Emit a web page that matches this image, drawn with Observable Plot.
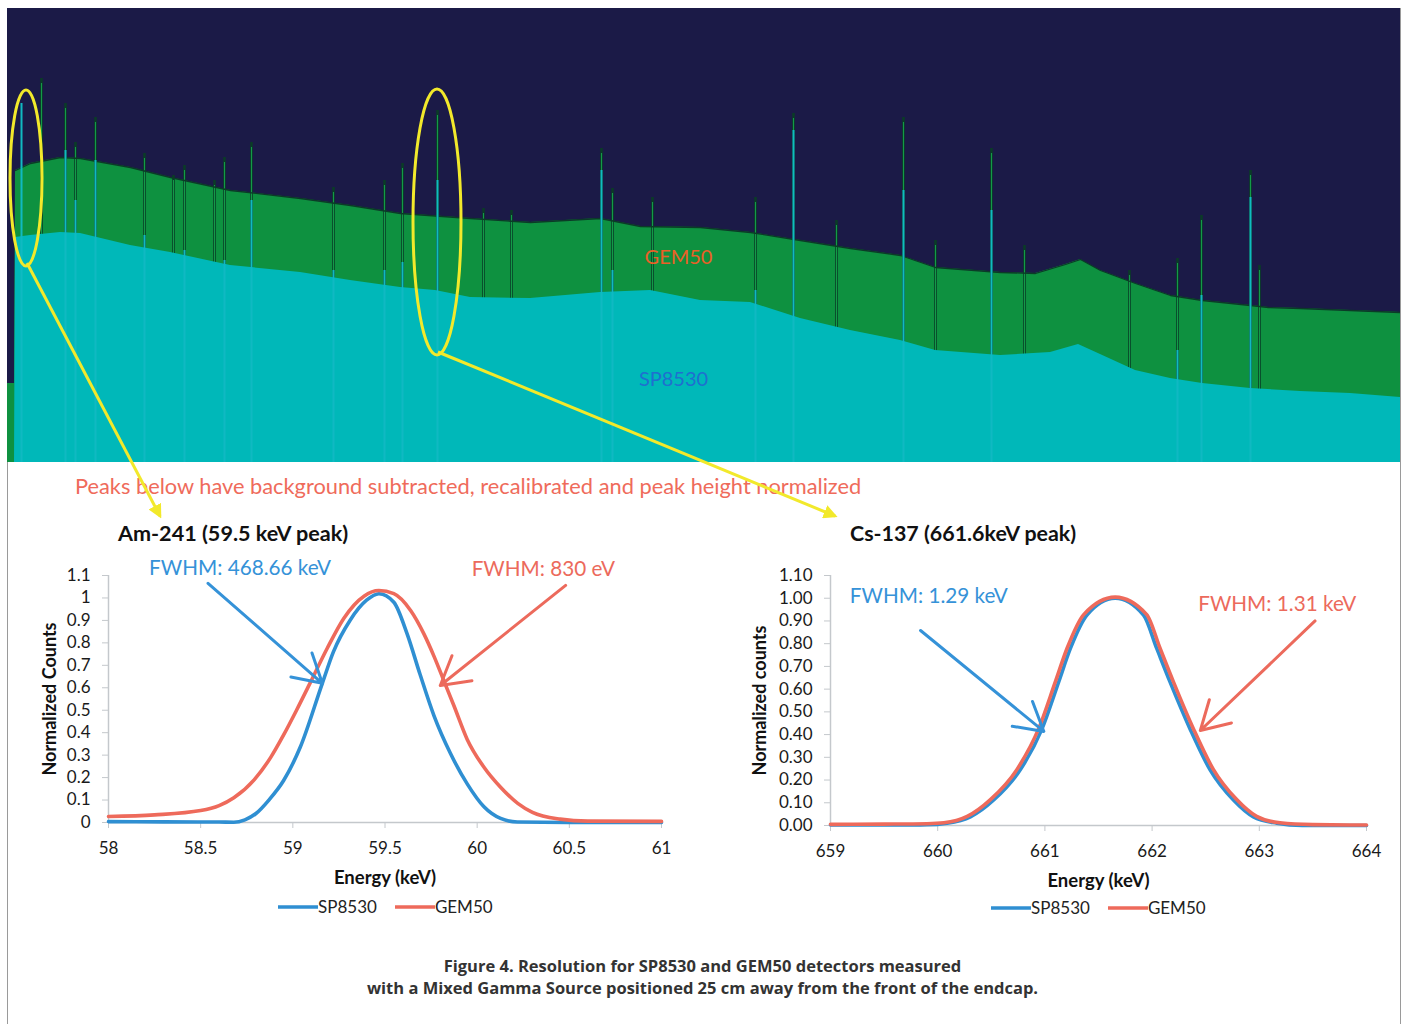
<!DOCTYPE html>
<html><head><meta charset="utf-8">
<script src="https://cdn.jsdelivr.net/npm/d3@7"></script>
<script src="https://cdn.jsdelivr.net/npm/@observablehq/plot@0.6"></script>
<style>
body{margin:0;background:#fff;}
#page{position:relative;width:1405px;height:1024px;overflow:hidden;background:#fff;font-family:Lato,"Open Sans",sans-serif;}
.abs{position:absolute;white-space:nowrap;}
</style></head><body><div id="page"></div>
<script>
// ---------- Top spectrum (channel, counts) ----------
const gemChannel = [0,7,8,23,53,73,123,163,223,293,343,393,463,523,593,633,693,743,793,843,893,928,993,1028,1058,1073,1093,1128,1163,1195,1243,1261,1293,1343,1393];
const gemCounts  = [79,79,292,299,305,304,295,285,272,264,257,249,244,240,244,236,235,230,222,214,207,195,190,189,198,203,192,179,167,162,157,155,154,152,150];
const spChannel  = [0,7,8,23,53,73,123,163,223,293,343,393,428,463,523,593,643,693,743,793,843,893,928,993,1043,1071,1093,1128,1163,1195,1243,1293,1343,1393];
const spCounts   = [0,0,225,227,230,229,217,210,197,190,182,175,172,165,164,170,172,162,160,144,132,122,112,107,110,118,108,92,84,79,74,71,69,65];
const peakChannel = [14,34,58,68,88,137,166,177,207,217,244,326,377,395,430,476,504,594,605,645,748,786,829,896,928,984,1017,1122,1170,1194,1243,1252];
const peakGEM = [null,384,359,320,345,309,287,297,282,305,320,275,282,299,352,254,252,314,274,265,265,349,242,345,222,314,217,192,204,247,292,197];
const peakSP  = [359,null,312,262,302,227,null,212,null,202,262,192,192,200,282,null,null,292,192,null,172,332,null,272,null,252,null,null,112,167,265,null];
const spectrumLabels = [{ch:671, v:205, t:"GEM50", c:"#ea6027", w:"bold"}, {ch:666, v:83, t:"SP8530", c:"#1f6fd0", w:"normal"}];
const highlightRegions = [{ch:19, v:284, dch:16, dv:88}, {ch:430, v:240, dch:24, dv:133}];

// ---------- Am-241 peak ----------
const amSPEnergy = [58.0,58.3,58.6,58.68,58.74,58.80,58.87,58.95,59.04,59.16,59.22,59.31,59.40,59.467,59.548,59.62,59.69,59.766,59.856,59.946,60.037,60.127,60.218,60.5,61.0];
const amSP       = [0.004,0.003,0.002,0.001,0.012,0.04,0.1,0.187,0.335,0.62,0.76,0.9,0.99,1.019,0.981,0.84,0.66,0.475,0.306,0.172,0.07,0.018,0.002,0,0];
const amGEMEnergy = [58.0,58.25,58.5,58.6,58.68,58.79,58.88,58.95,59.02,59.096,59.186,59.277,59.386,59.467,59.548,59.639,59.711,59.766,59.82,59.874,59.946,60.037,60.127,60.22,60.3,60.45,60.6,61.0];
const amGEM       = [0.027,0.034,0.053,0.075,0.11,0.19,0.29,0.39,0.5,0.625,0.775,0.91,1.008,1.033,1.019,0.944,0.84,0.74,0.63,0.52,0.37,0.246,0.157,0.085,0.045,0.015,0.006,0.005];
const amXTicks = [58,58.5,59,59.5,60,60.5,61];
const amYTicks = [0,0.1,0.2,0.3,0.4,0.5,0.6,0.7,0.8,0.9,1,1.1];

// ---------- Cs-137 peak ----------
const csSPEnergy = [659,659.5,659.9,660.088,660.305,660.522,660.77,660.972,661.128,661.237,661.392,661.656,661.92,662.044,662.168,662.355,662.541,662.759,662.945,663.163,663.4,664];
const csSP       = [0.002,0.002,0.003,0.01,0.038,0.112,0.245,0.424,0.631,0.778,0.926,1.0,0.926,0.778,0.631,0.424,0.245,0.112,0.038,0.01,0,0];
const csGEMEnergy = [659,659.5,659.9,660.058,660.275,660.492,660.74,660.942,661.098,661.207,661.362,661.656,661.95,662.074,662.198,662.385,662.571,662.789,662.975,663.193,663.5,664];
const csGEM       = [0.005,0.006,0.008,0.012,0.04,0.114,0.247,0.426,0.633,0.78,0.928,1.005,0.928,0.78,0.633,0.426,0.247,0.114,0.04,0.012,0.004,0.002];
const csXTicks = [659,660,661,662,663,664];
const csYTicks = [0,0.1,0.2,0.3,0.4,0.5,0.6,0.7,0.8,0.9,1.0,1.1];

// FWHM annotations (data coordinates)
const amNotes = [{x:58.22, y:1.13, t:"FWHM: 468.66 keV", c:"#3592d8", x1:58.54, y1:1.065, x2:59.16, y2:0.62},
                 {x:59.97, y:1.127, t:"FWHM: 830 eV", c:"#ec6a5c", x1:60.48, y1:1.056, x2:59.80, y2:0.61}];
const csNotes = [{x:659.18, y:1.007, t:"FWHM: 1.29 keV", c:"#3592d8", x1:659.84, y1:0.858, x2:660.99, y2:0.414},
                 {x:662.43, y:0.972, t:"FWHM: 1.31 keV", c:"#ec6a5c", x1:663.52, y1:0.90, x2:662.45, y2:0.418}];

const seriesNames = ["SP8530","GEM50"];
const BLUE = "#2f8fd2", RED = "#ee6a5b", AXIS = "#c4c8cc";
const NAVY = "#1b1a47", GREEN = "#0e9140", CYAN = "#00b8b9";

const page = document.getElementById("page");
function place(el, left, top){ el.style.position="absolute"; el.style.left=left+"px"; el.style.top=top+"px"; page.appendChild(el); return el; }
function textDiv(txt, left, top, css){ const d=document.createElement("div"); d.className="abs"; d.textContent=txt; Object.assign(d.style, css); return place(d,left,top); }

// border frame
const frame = document.createElement("div");
Object.assign(frame.style,{width:"1392px",height:"1030px",borderLeft:"1px solid #9a9a9a",borderRight:"1px solid #9a9a9a"});
place(frame, 7, 8);

// ---------- top panel ----------
const gemRows = gemChannel.map((ch,i)=>({ch, v:gemCounts[i]}));
const spRows = spChannel.map((ch,i)=>({ch, v:spCounts[i]}));
const gemPeaks = peakChannel.map((ch,i)=>({ch, v:peakGEM[i]})).filter(d=>d.v!=null);
const spPeaks = peakChannel.map((ch,i)=>({ch, v:peakSP[i]})).filter(d=>d.v!=null);

const topPlot = Plot.plot({
  width: 1393, height: 454, margin: 0,
  x: {domain: [0, 1393], axis: null},
  y: {domain: [0, 454], axis: null},
  style: {background: NAVY, fontFamily: "Lato, sans-serif"},
  marks: [
    Plot.areaY(gemRows, {x: "ch", y: "v", fill: GREEN}),
    Plot.ruleX(gemPeaks, {x: "ch", y1: 0, y2: "v", stroke: "#0b3b27", strokeWidth: 2.6}),
    Plot.ruleX(gemPeaks, {x: "ch", y1: 0, y2: d => d.v - 5, stroke: "#139a48", strokeWidth: 1.1}),
    Plot.lineY(gemRows.slice(2), {x: "ch", y: "v", stroke: "#0b3b27", strokeWidth: 1.3}),
    Plot.areaY(spRows, {x: "ch", y: "v", fill: CYAN}),
    Plot.ruleX(spPeaks, {x: "ch", y1: 0, y2: "v", stroke: "#10b9c2", strokeWidth: 2}),
    Plot.text(spectrumLabels, {x: "ch", y: "v", text: "t", fill: "c", fontWeight: "w", fontSize: 20})
  ]
});
place(topPlot, 7, 8);

// ---------- header text & titles ----------
textDiv("Peaks below have background subtracted, recalibrated and peak height normalized", 75, 472, {fontSize:"21.8px", color:"#ef6b5b"});
textDiv("Am-241 (59.5 keV peak)", 118, 520, {fontSize:"21.6px", fontWeight:"bold", color:"#111"});
textDiv("Cs-137 (661.6keV peak)", 850, 520, {fontSize:"21.4px", fontWeight:"bold", color:"#111"});

// ---------- peak charts ----------
function peakChart({spE, sp, gemE, gem, xTicks, yTicks, yFmt, xDomain, notes, yLabel, width, height, ml, mr, mt, mb, yLabelDx}) {
  const spRowsC = spE.map((e,i)=>({e, v: sp[i]}));
  const gemRowsC = gemE.map((e,i)=>({e, v: gem[i]}));
  return Plot.plot({
    width, height, marginLeft: ml, marginRight: mr, marginTop: mt, marginBottom: mb,
    style: {fontFamily: "Lato, sans-serif", fontSize: "17px", overflow: "visible", background: "transparent"},
    x: {domain: xDomain, label: null},
    y: {domain: [0, 1.1], label: null},
    marks: [
      Plot.ruleY([0], {stroke: AXIS, strokeWidth: 1.5}),
      Plot.ruleX([xDomain[0]], {stroke: AXIS, strokeWidth: 1.5}),
      Plot.axisX(xTicks, {tickSize: 6, tickPadding: 13, stroke: AXIS, fill: "#1a1a1a", label: null, tickFormat: d3.format("~g")}),
      Plot.axisY(yTicks, {tickSize: 6, tickPadding: 12, stroke: AXIS, fill: "#1a1a1a", label: null, tickFormat: yFmt}),
      Plot.line(spRowsC, {x: "e", y: "v", stroke: BLUE, strokeWidth: 3.6, curve: "monotone-x"}),
      Plot.line(gemRowsC, {x: "e", y: "v", stroke: RED, strokeWidth: 3.6, curve: "monotone-x"}),
      Plot.arrow(notes, {x1: "x1", y1: "y1", x2: "x2", y2: "y2", stroke: "c", strokeWidth: 3, headLength: 16}),
      Plot.text(notes, {x: "x", y: "y", text: "t", fill: "c", textAnchor: "start", fontSize: 20.7}),
      Plot.text(["Energy (keV)"], {frameAnchor: "bottom", lineAnchor: "middle", dy: 56, fontWeight: "bold", fontSize: 18.5, fill: "#111"}),
      Plot.text([yLabel], {frameAnchor: "left", textAnchor: "middle", lineAnchor: "middle", dx: yLabelDx, rotate: -90, fontWeight: "bold", fontSize: 18, fill: "#111"})
    ]
  });
}

const amPlot = peakChart({spE: amSPEnergy, sp: amSP, gemE: amGEMEnergy, gem: amGEM, xTicks: amXTicks, yTicks: amYTicks, yFmt: d3.format("~g"),
  xDomain: [58, 61], notes: amNotes, yLabel: "Normalized Counts", width: 680, height: 345, ml: 88, mr: 39, mt: 25, mb: 73, yLabelDx: -58});
place(amPlot, 20, 550);

const csPlot = peakChart({spE: csSPEnergy, sp: csSP, gemE: csGEMEnergy, gem: csGEM, xTicks: csXTicks, yTicks: csYTicks, yFmt: d3.format(".2f"),
  xDomain: [659, 664], notes: csNotes, yLabel: "Normalized counts", width: 656, height: 348, ml: 90, mr: 30, mt: 25, mb: 73, yLabelDx: -70});
place(csPlot, 740, 550);

// ---------- legends ----------
function legend(left, top) {
  const d = document.createElement("div");
  Object.assign(d.style, {display: "flex", alignItems: "center", fontSize: "17px", color: "#222"});
  [BLUE, RED].forEach((c, i) => {
    const s = document.createElementNS("http://www.w3.org/2000/svg", "svg");
    s.setAttribute("width", 40); s.setAttribute("height", 10);
    s.innerHTML = `<line x1="0" y1="5" x2="40" y2="5" stroke="${c}" stroke-width="3.6"/>`;
    const t = document.createElement("span"); t.textContent = seriesNames[i];
    t.style.marginRight = i === 0 ? "18px" : "0";
    d.appendChild(s); d.appendChild(t);
  });
  return place(d, left, top);
}
legend(278, 896);
legend(991, 897);

// ---------- caption ----------
const cap = document.createElement("div");
cap.innerHTML = "Figure 4. Resolution for SP8530 and GEM50 detectors measured<br>with a Mixed Gamma Source positioned 25 cm away from the front of the endcap.";
Object.assign(cap.style, {width: "1405px", textAlign: "center", fontFamily: "'Open Sans', sans-serif", fontWeight: "bold", fontSize: "16.5px", lineHeight: "22px", color: "#333"});
place(cap, 0, 955);

// ---------- yellow highlight overlay ----------
const xs = topPlot.scale("x"), ys = topPlot.scale("y");
const OX = 7, OY = 8;
const arrowTargets = [[160, 516], [835, 516]];
const ov = d3.create("svg").attr("width", 1405).attr("height", 1024)
  .style("position", "absolute").style("left", "0px").style("top", "0px").style("pointer-events", "none");
ov.append("defs").append("marker").attr("id", "yh").attr("viewBox", "0 0 10 10").attr("refX", 8).attr("refY", 5)
  .attr("markerWidth", 14).attr("markerHeight", 14).attr("markerUnits", "userSpaceOnUse").attr("orient", "auto")
  .append("path").attr("d", "M0,0L10,5L0,10z").attr("fill", "#f2e92b");
highlightRegions.forEach((r, i) => {
  const cx = OX + xs.apply(r.ch), cy = OY + ys.apply(r.v);
  const rx = xs.apply(r.ch + r.dch) - xs.apply(r.ch);
  const ry = ys.apply(r.v - r.dv) - ys.apply(r.v);
  ov.append("ellipse").attr("cx", cx).attr("cy", cy).attr("rx", rx).attr("ry", ry)
    .attr("fill", "none").attr("stroke", "#f2e92b").attr("stroke-width", 3);
  ov.append("line").attr("x1", cx + 1).attr("y1", cy + ry - 3).attr("x2", arrowTargets[i][0]).attr("y2", arrowTargets[i][1])
    .attr("stroke", "#f2e92b").attr("stroke-width", 3).attr("marker-end", "url(#yh)");
});
page.appendChild(ov.node());
</script></body></html>
